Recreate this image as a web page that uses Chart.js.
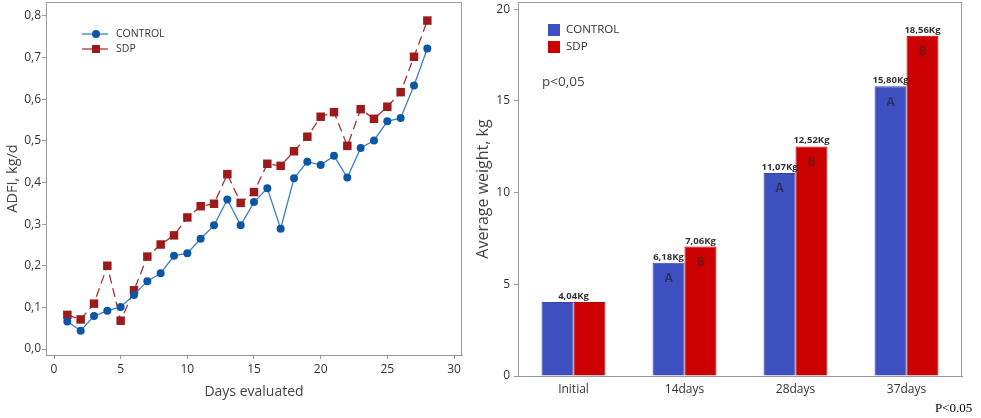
<!DOCTYPE html>
<html>
<head>
<meta charset="utf-8">
<script src="https://cdn.jsdelivr.net/npm/chart.js@4"></script>
<style>
  body { margin: 0; background: #fff; }
  #left { position: absolute; left: 0; top: 0; width: 470px; height: 418px; }
  #right { position: absolute; left: 470px; top: 0; width: 511px; height: 418px; }
  #pnote { position: absolute; left: 935px; top: 400px; font: 13px "Liberation Serif", serif; color: #000; }
</style>
</head>
<body>
<div id="left"><canvas id="adfiChart"></canvas></div>
<div id="right"><canvas id="weightChart"></canvas></div>
<div id="pnote">P&lt;0.05</div>
<script>
// ADFI per day
var days = [1, 2, 3, 4, 5, 6, 7, 8, 9, 10, 11, 12, 13, 14, 15, 16, 17, 18, 19, 20, 21, 22, 23, 24, 25, 26, 27, 28];
var adfiControl = [0.066, 0.044, 0.079, 0.092, 0.101, 0.130, 0.163, 0.182, 0.224, 0.230, 0.265, 0.297, 0.359, 0.297,
  0.353, 0.386, 0.289, 0.410, 0.450, 0.442, 0.464, 0.412, 0.483, 0.501, 0.547, 0.555, 0.633, 0.722];
var adfiSdp = [0.082, 0.071, 0.109, 0.200, 0.068, 0.141, 0.222, 0.251, 0.273, 0.316, 0.343, 0.349, 0.420, 0.351,
  0.377, 0.445, 0.440, 0.475, 0.510, 0.558, 0.569, 0.488, 0.576, 0.553, 0.582, 0.617, 0.702, 0.789];
var adfiTicks = [0, 0.1, 0.2, 0.3, 0.4, 0.5, 0.6, 0.7, 0.8];
var dayTicks = [0, 5, 10, 15, 20, 25, 30];

// average weight
var periods = ["Initial", "14days", "28days", "37days"];
var weightControl = [4.04, 6.18, 11.07, 15.80];
var weightSdp = [4.04, 7.06, 12.52, 18.56];
var lettersControl = ["", "A", "A", "A"];
var lettersSdp = ["", "B", "B", "B"];
var weightTicks = [0, 5, 10, 15, 20];

var FONT = "'Open Sans', sans-serif";
var TXT = "#333";
var AXIS = "#9a9a9a";

function comma(v, d) { return v.toFixed(d).replace(".", ","); }

function fixWidth(w) {
  return function (s) { s.width = w; s.paddingTop = 0; s.paddingBottom = 0; };
}
function fixHeight(h) {
  return function (s) { s.height = h; s.paddingLeft = 0; s.paddingRight = 0; };
}

// frame on the top and right of the plot
var framePlugin = {
  id: "frame",
  beforeDatasetsDraw: function (chart) {
    var a = chart.chartArea, c = chart.ctx;
    c.save();
    c.strokeStyle = AXIS;
    c.lineWidth = 1;
    c.beginPath();
    c.moveTo(a.left, a.top + 0.5);
    c.lineTo(a.right - 0.5, a.top + 0.5);
    c.lineTo(a.right - 0.5, a.bottom);
    c.stroke();
    c.restore();
  }
};

var lineLegend = {
  id: "lineLegend",
  afterDraw: function (chart) {
    var c = chart.ctx;
    c.save();
    chart.data.datasets.forEach(function (ds, i) {
      var y = 34 + i * 15;
      c.strokeStyle = ds.borderColor;
      c.lineWidth = 1.3;
      c.setLineDash([]);
      c.beginPath(); c.moveTo(82, y); c.lineTo(108, y); c.stroke();
      c.fillStyle = ds.pointBackgroundColor;
      c.beginPath();
      if (ds.pointStyle === "rect") c.rect(92, y - 4, 8, 8);
      else c.arc(96, y, 4, 0, Math.PI * 2);
      c.fill();
      c.fillStyle = TXT;
      c.font = "10.5px " + FONT;
      c.textBaseline = "middle";
      c.fillText(ds.label, 116, y);
    });
    c.restore();
  }
};

new Chart(document.getElementById("adfiChart"), {
  type: "scatter",
  data: {
    datasets: [
      {
        label: "CONTROL",
        data: days.map(function (d, i) { return { x: d, y: adfiControl[i] }; }),
        showLine: true,
        borderColor: "#3a7fc4",
        borderWidth: 1.3,
        pointStyle: "circle",
        pointRadius: 4,
        pointBackgroundColor: "#0b57a5",
        pointBorderWidth: 0
      },
      {
        label: "SDP",
        data: days.map(function (d, i) { return { x: d, y: adfiSdp[i] }; }),
        showLine: true,
        borderColor: "#a83236",
        borderWidth: 1.3,
        borderDash: [9, 5],
        pointStyle: "rect",
        pointRadius: 6,
        pointBackgroundColor: "#9c1a1c",
        pointBorderWidth: 0
      }
    ]
  },
  options: {
    responsive: true,
    maintainAspectRatio: false,
    animation: false,
    layout: { autoPadding: false, padding: { top: 2, right: 8, left: 0, bottom: 14 } },
    plugins: { legend: { display: false }, tooltip: { enabled: false } },
    scales: {
      x: {
        type: "linear",
        min: -0.6, max: 30.6,
        afterBuildTicks: function (s) { s.ticks = dayTicks.map(function (v) { return { value: v }; }); },
        afterFit: fixHeight(49),
        grid: { drawOnChartArea: false, tickLength: 4, color: AXIS },
        border: { color: AXIS },
        ticks: { color: TXT, font: { family: FONT, size: 12 }, padding: 3, maxRotation: 0 },
        title: { display: true, text: "Days evaluated", color: "#444", font: { family: FONT, size: 14 }, padding: { top: 6 } }
      },
      y: {
        min: -0.0144, max: 0.8336,
        afterBuildTicks: function (s) { s.ticks = adfiTicks.map(function (v) { return { value: v }; }); },
        afterFit: fixWidth(46),
        grid: { drawOnChartArea: false, tickLength: 4, color: AXIS },
        border: { color: AXIS },
        ticks: { color: TXT, font: { family: FONT, size: 12 }, padding: 1, callback: function (v) { return comma(v, 1); } },
        title: { display: true, text: "ADFI, kg/d", color: "#444", font: { family: FONT, size: 14.5 }, padding: { top: 4, bottom: 0 } }
      }
    }
  },
  plugins: [framePlugin, lineLegend]
});

var barExtras = {
  id: "barExtras",
  afterDatasetsDraw: function (chart) {
    var c = chart.ctx;
    var m0 = chart.getDatasetMeta(0), m1 = chart.getDatasetMeta(1);
    c.save();
    c.textAlign = "center";
    periods.forEach(function (p, i) {
      var b0 = m0.data[i], b1 = m1.data[i];
      c.fillStyle = TXT;
      c.font = "bold 9.5px " + FONT;
      c.textBaseline = "bottom";
      if (weightControl[i] === weightSdp[i]) {
        c.fillText(comma(weightControl[i], 2) + "Kg", (b0.x + b1.x) / 2, b0.y - 1);
      } else {
        c.fillText(comma(weightControl[i], 2) + "Kg", b0.x, b0.y - 1);
        c.fillText(comma(weightSdp[i], 2) + "Kg", b1.x, b1.y - 1);
      }
      c.font = "bold 12px " + FONT;
      c.textBaseline = "middle";
      c.fillStyle = "rgba(40,40,70,0.75)";
      if (lettersControl[i]) c.fillText(lettersControl[i], b0.x, b0.y + 16);
      c.fillStyle = "rgba(70,30,30,0.6)";
      if (lettersSdp[i]) c.fillText(lettersSdp[i], b1.x, b1.y + 16);
    });
    // legend and p value
    c.textAlign = "left";
    c.textBaseline = "middle";
    chart.data.datasets.forEach(function (ds, i) {
      var y = 30 + i * 17;
      c.fillStyle = ds.backgroundColor;
      c.fillRect(78, y - 6, 12, 12);
      c.fillStyle = TXT;
      c.font = "11.5px " + FONT;
      c.fillText(ds.label, 96, y);
    });
    c.fillStyle = "#444";
    c.font = "13.5px " + FONT;
    c.fillText("p<0,05", 72, 82);
    c.restore();
  }
};

new Chart(document.getElementById("weightChart"), {
  type: "bar",
  data: {
    labels: periods,
    datasets: [
      { label: "CONTROL", data: weightControl, backgroundColor: "#3e50bf", borderColor: "#3646a8", borderWidth: 1 },
      { label: "SDP", data: weightSdp, backgroundColor: "#cc0000", borderColor: "#b30000", borderWidth: 1 }
    ]
  },
  options: {
    responsive: true,
    maintainAspectRatio: false,
    animation: false,
    layout: { autoPadding: false, padding: { top: 2, right: 19, left: 0, bottom: 0 } },
    plugins: { legend: { display: false }, tooltip: { enabled: false } },
    datasets: { bar: { categoryPercentage: 0.576, barPercentage: 1.0 } },
    scales: {
      x: {
        afterFit: fixHeight(42),
        grid: { display: false, drawTicks: false },
        border: { color: AXIS },
        ticks: { color: TXT, font: { family: FONT, size: 12 }, padding: 6 }
      },
      y: {
        min: 0, max: 20.4,
        afterBuildTicks: function (s) { s.ticks = weightTicks.map(function (v) { return { value: v }; }); },
        afterFit: fixWidth(48),
        grid: { drawOnChartArea: false, tickLength: 4, color: AXIS },
        border: { color: AXIS },
        ticks: { color: TXT, font: { family: FONT, size: 12 }, padding: 4 },
        title: { display: true, text: "Average weight, kg", color: "#444", font: { family: FONT, size: 16 }, padding: { top: 4, bottom: 0 } }
      }
    }
  },
  plugins: [framePlugin, barExtras]
});
</script>
</body>
</html>
